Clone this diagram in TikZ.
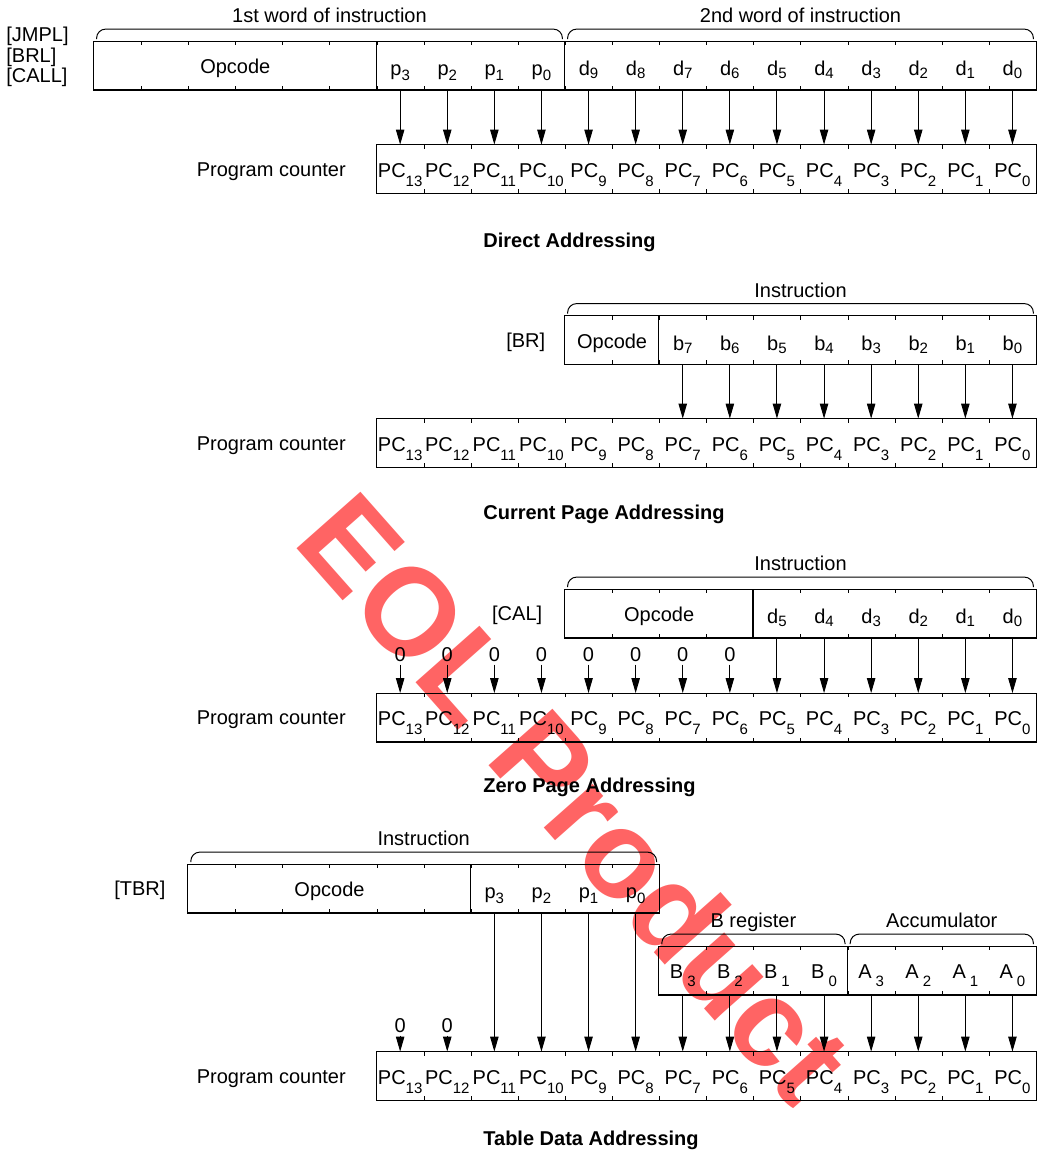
\documentclass[tikz,border=0pt]{standalone}
\usepackage{fontspec}
\setmainfont{Liberation Sans}
\usepackage{tikz}
\usetikzlibrary{arrows.meta,positioning}
\definecolor{adInk}{HTML}{000000}
\definecolor{adMark}{HTML}{FF6464}
\newcommand{\adsub}[2][-1.5pt]{\raisebox{#1}{\fontsize{7.5}{9}\selectfont#2}}
\tikzset{
  ad diagram/.style={x=0.5pt,y=-0.5pt,font=\fontsize{10}{12}\selectfont,
    text=adInk,line cap=butt,line join=miter},
  ad text/.style={inner sep=0pt,text height=7.2pt,text depth=0pt},
  ad cell/.style={inner sep=0pt,minimum width=23.55pt,minimum height=24pt,
    text depth=0pt},
  ad bit/.style={ad cell,text height=10pt},
  ad pc/.style={ad cell,text height=8pt},
  ad reg/.style={ad cell,text height=7.5pt},
  ad op/.style={ad text,text height=8pt},
  ad zero/.style={ad text,inner sep=1.5pt},
  ad frame/.style={draw=adInk,line width=0.6pt},
  ad tick/.style={draw=adInk,line width=0.5pt},
  ad arrow/.style={-{Triangle[length=7.5pt,width=4.2pt]},draw=adInk,
    line width=0.5pt},
  ad brace/.style={draw=adInk,line width=0.5pt,rounded corners=4.5pt},
  ad over/.style={ad text,anchor=south,inner sep=3pt},
  ad title/.style={ad text,anchor=west,
    font=\fontsize{10}{12}\selectfont\bfseries},
  ad mark/.style={text=adMark,rotate=-48.5,inner sep=0pt,text height=44.4pt,
    text depth=0pt,font=\fontsize{62}{70}\selectfont\bfseries}
}
% small marks on the cell borders
\newcommand{\adticks}[3]{%
  \foreach \k in {#2,...,#3}
    \draw[ad tick] (#1\k.north east) -- ++(0pt,-2pt)
      (#1\k.south east) -- ++(0pt,2pt);}
% bracket over a group of cells
\newcommand{\adbrace}[4]{%
  \draw[ad brace] ([shift={(1.5pt,1pt)}]#1.north west) -- ++(0pt,5pt)
    -- node[ad over] (#4) {#3} ([shift={(-1.5pt,6pt)}]#2.north east)
    -- ++(0pt,-5pt);}
% program counter row
\newcommand{\adpc}[2]{%
  \foreach \k in {0,...,13}
    \node[ad pc] (#1pc\k) at ({1036-(\k+0.5)*47.1},#2) {PC\adsub[-4.5pt]{\k}};
  \draw[ad frame] (#1pc13.north west) rectangle (#1pc0.south east);
  \adticks{#1pc}{1}{13}
  \node[ad text,left=15pt of #1pc13] (#1pcname) {Program counter};}

\begin{document}
\begin{tikzpicture}[ad diagram]
\useasboundingbox (0,0) rectangle (1046,1153);
\node[ad mark] (mark) at (576,797) {EOL Product};
% direct addressing
\foreach \k in {0,...,9}
  \node[ad bit] (s1i\k) at ({1036-(\k+0.5)*47.1},65.5) {d\adsub{\k}};
\foreach \k/\j in {10/0,11/1,12/2,13/3}
  \node[ad bit] (s1i\k) at ({1036-(\k+0.5)*47.1},65.5) {p\adsub[-2.5pt]{\j}};
\foreach \k in {14,...,19}
  \node[ad bit] (s1i\k) at ({1036-(\k+0.5)*47.1},65.5) {};
\node[ad op] (s1op) at ({1036-17*47.1},65.5) {Opcode};
\draw[ad frame] (s1i19.north west) rectangle (s1i0.south east);
\draw[ad frame] (s1i13.north west) -- (s1i13.south west)
  (s1i9.north west) -- (s1i9.south west);
\adticks{s1i}{1}{19}
\adbrace{s1i19}{s1i10}{1st word of instruction}{s1w1}
\adbrace{s1i9}{s1i0}{2nd word of instruction}{s1w2}
\node[anchor=west,align=left,inner sep=0pt,font=\fontsize{10}{9.3}\selectfont]
  (s1tag) at (6,57) {[JMPL]\\{[BRL]}\\{[CALL]}};
\adpc{s1}{169}
\foreach \k in {0,...,13} \draw[ad arrow] (s1i\k) -- (s1pc\k);
\node[ad title] (s1title) at (483,240) {Direct Addressing};
% current page addressing
\foreach \k in {0,...,7}
  \node[ad bit] (s2i\k) at ({1036-(\k+0.5)*47.1},340) {b\adsub{\k}};
\foreach \k in {8,9}
  \node[ad bit] (s2i\k) at ({1036-(\k+0.5)*47.1},340) {};
\node[ad op] (s2op) at ({1036-9*47.1},340) {Opcode};
\draw[ad frame] (s2i9.north west) rectangle (s2i0.south east);
\draw[ad frame] (s2i7.north west) -- (s2i7.south west);
\adticks{s2i}{1}{9}
\adbrace{s2i9}{s2i0}{Instruction}{s2w}
\node[ad text,left=9.5pt of s2i9] (s2tag) {[BR]};
\adpc{s2}{443}
\foreach \k in {0,...,7} \draw[ad arrow] (s2i\k) -- (s2pc\k);
\node[ad title] (s2title) at (483,512) {Current Page Addressing};
% zero page addressing
\foreach \k in {0,...,5}
  \node[ad bit] (s3i\k) at ({1036-(\k+0.5)*47.1},613.5) {d\adsub{\k}};
\foreach \k in {6,...,9}
  \node[ad bit] (s3i\k) at ({1036-(\k+0.5)*47.1},613.5) {};
\node[ad op] (s3op) at ({1036-8*47.1},613.5) {Opcode};
\draw[ad frame] (s3i9.north west) rectangle (s3i0.south east);
\draw[ad frame] (s3i5.north west) -- (s3i5.south west);
\adticks{s3i}{1}{9}
\adbrace{s3i9}{s3i0}{Instruction}{s3w}
\node[ad text,left=11pt of s3i9] (s3tag) {[CAL]};
\adpc{s3}{717.5}
\foreach \k in {6,...,13}
  \node[ad zero] (s3z\k) at ({1036-(\k+0.5)*47.1},654) {0};
\foreach \k in {0,...,5} \draw[ad arrow] (s3i\k) -- (s3pc\k);
\foreach \k in {6,...,13} \draw[ad arrow] (s3z\k) -- (s3pc\k);
\node[ad title] (s3title) at (483,785) {Zero Page Addressing};
% table data addressing
\foreach \k/\j in {8/0,9/1,10/2,11/3}
  \node[ad bit] (s4i\k) at ({1036-(\k+0.5)*47.1},888.5) {p\adsub[-2.5pt]{\j}};
\foreach \k in {12,...,17}
  \node[ad bit] (s4i\k) at ({1036-(\k+0.5)*47.1},888.5) {};
\node[ad op] (s4op) at ({1036-15*47.1},888.5) {Opcode};
\draw[ad frame] (s4i17.north west) rectangle (s4i8.south east);
\draw[ad frame] (s4i11.north west) -- (s4i11.south west);
\adticks{s4i}{9}{17}
\adbrace{s4i17}{s4i8}{Instruction}{s4w}
\node[ad text,left=11pt of s4i17] (s4tag) {[TBR]};
\foreach \k in {0,...,3}
  \node[ad reg] (s4r\k) at ({1036-(\k+0.5)*47.1},970.5) {A\kern2pt\adsub[-4pt]{\k}};
\foreach \k/\j in {4/0,5/1,6/2,7/3}
  \node[ad reg] (s4r\k) at ({1036-(\k+0.5)*47.1},970.5) {B\kern2pt\adsub[-4pt]{\j}};
\draw[ad frame] (s4r7.north west) rectangle (s4r0.south east);
\draw[ad frame] (s4r3.north west) -- (s4r3.south west);
\adticks{s4r}{1}{7}
\adbrace{s4r7}{s4r4}{B register}{s4wb}
\adbrace{s4r3}{s4r0}{Accumulator}{s4wa}
\adpc{s4}{1076}
\foreach \k in {12,13}
  \node[ad zero] (s4z\k) at ({1036-(\k+0.5)*47.1},1025) {0};
\foreach \k in {8,...,11} \draw[ad arrow] (s4i\k) -- (s4pc\k);
\foreach \k in {0,...,7} \draw[ad arrow] (s4r\k) -- (s4pc\k);
\foreach \k in {12,13} \draw[ad arrow] (s4z\k) -- (s4pc\k);
\node[ad title] (s4title) at (483,1138) {Table Data Addressing};
\end{tikzpicture}
\end{document}
